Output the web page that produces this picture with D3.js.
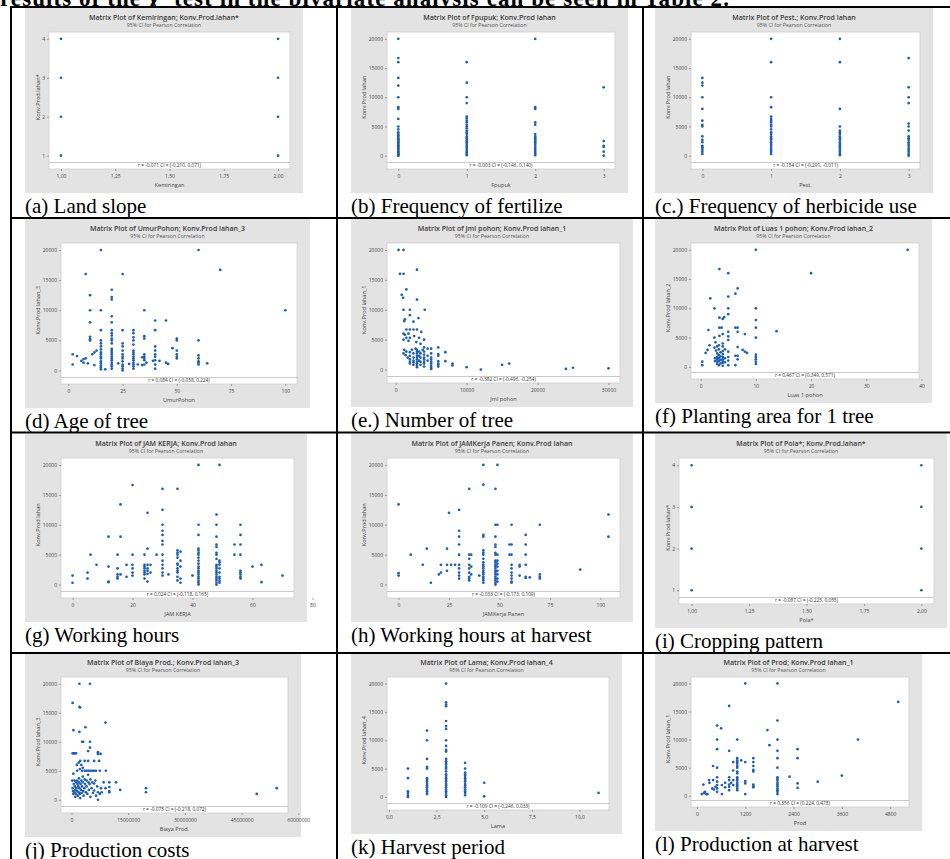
<!DOCTYPE html>
<html>
<head>
<meta charset="utf-8">
<script src="https://cdn.jsdelivr.net/npm/d3@7"></script>
<style>
  html, body { margin: 0; padding: 0; background: #fff; }
</style>
</head>
<body>
<script>
// ---------------- tick values and labels ----------------
const prodTicks = [0, 5000, 10000, 15000, 20000];
const prodTickLabels = ["0", "5000", "10000", "15000", "20000"];
const classTicks = [1, 2, 3, 4];
const classTickLabels = ["1", "2", "3", "4"];
const binaryTicks = [1, 1.25, 1.5, 1.75, 2];
const binaryTickLabels = ["1,00", "1,25", "1,50", "1,75", "2,00"];
const countTicks = [0, 1, 2, 3];
const countTickLabels = ["0", "1", "2", "3"];
const ageTicks = [0, 25, 50, 75, 100];
const ageTickLabels = ["0", "25", "50", "75", "100"];
const treeTicks = [0, 10000, 20000, 30000];
const treeTickLabels = ["0", "10000", "20000", "30000"];
const areaTicks = [0, 10, 20, 30, 40];
const areaTickLabels = ["0", "10", "20", "30", "40"];
const workTicks = [0, 20, 40, 60, 80];
const workTickLabels = ["0", "20", "40", "60", "80"];
const harvestWorkTicks = [0, 25, 50, 75, 100];
const harvestWorkTickLabels = ["0", "25", "50", "75", "100"];
const costTicks = [0, 15000000, 30000000, 45000000, 60000000];
const costTickLabels = ["0", "15000000", "30000000", "45000000", "60000000"];
const periodTicks = [0, 2.5, 5, 7.5, 10];
const periodTickLabels = ["0,0", "2,5", "5,0", "7,5", "10,0"];
const outputTicks = [0, 1200, 2400, 3600, 4800];
const outputTickLabels = ["0", "1200", "2400", "3600", "4800"];

// ---------------- observations ----------------
// (a) land slope class vs yield class
const slopePoints = [[1,1],[1,2],[1,3],[1,4],[2,1],[2,2],[2,3],[2,4]];

// (b) fertilizer frequency vs yield
const fertilizeCols = [
  {x: 0, y: [20000,16700,16000,13300,12000,10000,8300,8000,6300,5000,4500,4000,3700,3500,3300,3000,2800,2700,2500,2300,2200,2000,1800,1700,1500,1300,1200,1000,800,700,500,400,200,100,0]},
  {x: 1, y: [16000,12500,10000,9000,6700,6400,6000,5700,5300,5000,4700,4300,4000,3700,3300,3000,2700,2500,2300,2000,1700,1500,1300,1000,700,500,300,100]},
  {x: 2, y: [20000,8300,8000,5700,5300,3700,3300,3000,2700,2500,2300,2000,1700,1300,1000,700,400,100]},
  {x: 3, y: [11700,2500,1700,1500,700,0]}
];

// (c) herbicide frequency vs yield
const herbicideCols = [
  {x: 0, y: [13300,12500,12000,10000,8000,6000,5300,5000,3300,2700,2300,1700,1500,1300,1000,700,300]},
  {x: 1, y: [20000,16000,10000,8300,6700,6300,6000,5700,5300,5000,4500,4000,3700,3300,3000,2700,2300,2000,1700,1300,1000,700,300]},
  {x: 2, y: [20000,16000,8000,5000,4300,4000,3700,3300,3000,2700,2300,2000,1700,1500,1300,1000,700,400,100]},
  {x: 3, y: [16700,11700,10000,9000,5500,5000,4300,3300,3000,2700,2300,2000,1700,1300,1000,700,300,0]}
];

// (d) tree age vs yield
const ageCols = [
  {x: 10, y: [12500,10000,8000,5600,5200,5000]},
  {x: 15, y: [20000,10000,6700,5000,4500,4000,3500,3000,2700,2300,2000,1500,1200,800,500,200]},
  {x: 20, y: [13400,12200,11800,9000,8000,6700,6200,5800,5300,5000,4500,3600,3300,3000,2700,2300,2000,1700,1300,1000,700,300]},
  {x: 25, y: [16000,6700,4500,4000,3300,2700,2300,2000,1500,1000,700,300,0]},
  {x: 30, y: [6700,6200,5500,5000,4300,3300,3000,2700,2300,2000,1700,1300,1000,700,300]},
  {x: 35, y: [10000,5700,5300,2700,2300,2000,1700,1000]},
  {x: 40, y: [8300,6700,4000,3300,2700,2300,1700,1000,300]},
  {x: 50, y: [5300,5000,3300,2700,2300,2000]},
  {x: 60, y: [20000,5000,2500,2000,1500,1300,1000]}
];
const ageScatter = [[70,16700],[8,16000],[100,10000],[45,8300],[64,1200],[48,3700],[45,1300],[46,1100],[42,1600],
  [2,2700],[4,2400],[2,1000],[6,1600],[7,1300],[7,1900],[8,2000],[9,1200],[11,2700],[12,3000],[13,3300],[12,900],
  [17,200],[23,1200],[28,1100],[32,1000],[34,900],[34,2200],[36,1300],[39,1600]];

// (e) number of trees vs yield
const treeCountPoints = [[400,20000],[1100,20000],[600,16000],[1100,16000],[3000,16700],[1500,13400],[850,12500],[1050,12000],
  [3000,11700],[1100,10000],[2000,10000],[4100,10000],[2000,9100],[1200,8100],[1300,8400],[2500,8000],[3200,8600],
  [1500,6700],[2000,6700],[2500,6700],[3000,6700],[3600,6300],[1100,6000],[1300,5800],[1800,6000],[1500,5300],
  [2000,5300],[2600,5600],[3300,5300],[1100,5000],[1800,4800],[2900,4600],[4000,5000],[3500,4300],
  [1200,3300],[1500,3000],[1100,2700],[1400,2400],[1700,2000],[2000,2900],[2000,2300],[2000,1700],[2000,1300],[2000,1000],
  [2300,3300],[2500,2700],[2500,2000],[2500,1500],[2500,1200],[2500,800],[2800,3500],[3000,3300],[3000,3000],[3000,2700],
  [3000,2300],[3000,2000],[3000,1700],[3000,1300],[3000,1000],[3000,700],[3000,400],[3300,3000],[3300,2300],[3300,1500],
  [3500,2700],[3500,2000],[3500,1300],[3500,800],[3800,3300],[4000,3700],[4000,3000],[4000,2500],[4000,2000],[4000,1700],
  [4000,1300],[4000,1000],[4000,500],[4500,3500],[4500,2300],[4500,1500],[5000,3500],[5000,2700],[5000,2000],[5000,1700],
  [5000,1300],[5000,1000],[5000,600],[5000,300],[5000,100],[6000,3700],[6000,2600],[6000,2300],[6000,1400],[6000,1000],
  [6000,800],[6000,500],[7000,2900],[7000,1400],[8000,1000],[8000,700],[10000,400],[12000,0],[15000,800],[16000,1000],
  [24000,100],[25000,300],[30000,200]];

// (f) planting area per tree vs yield
const areaPoints = [[10,20000],[37.5,20000],[3.4,16700],[5,16000],[20,16000],[6.7,13400],[6.3,12500],[1.75,11700],[5,12000],
  [2.5,10000],[5,10000],[5,9000],[10,10000],[3.4,8400],[4,8200],[4.25,8500],[10,8000],[3.4,6700],[3.8,6700],[6.3,6700],
  [6.7,6700],[6.7,6000],[10,6700],[1.4,6300],[13.75,6100],[5,6000],[8,5600],[10,5000],[2.5,5000],[4,5600],[3.4,5300],
  [5,5200],[5,4600],[0.3,900],[0.3,300],[1.25,2900],[0.9,2400],[1.6,3700],[2.5,3300],[2.8,2800],[3,2300],[3,1700],
  [3,1300],[3,900],[3,500],[3.3,3700],[3.3,3000],[3.3,2000],[3.3,1500],[3.3,1000],[3.3,300],[3.6,2500],[3.6,1800],
  [3.6,1200],[3.6,600],[4,4000],[4,3500],[4,2700],[4,2200],[4,1700],[4,1300],[4,1000],[4,700],[4,200],[4.4,3000],
  [4.4,1500],[4.4,800],[2.7,4200],[2.6,1000],[2.6,1500],[3,3500],[6.7,3400],[7.6,2900],[8,2600],[8.4,2400],[6.3,1900],
  [6.7,1900],[6.7,1300],[6.3,300],[10,2100],[10,1700],[10,1300],[10,900],[10,500],[5,2600],[5,1700],[5,1100],[5,300]];

// (g) working hours vs yield
const workCols = [
  {x: 24, y: [5000,3300,3000,2700,2300,2000,1700,1000]},
  {x: 25, y: [12000,6000,3300,2700,2300,1800,500]},
  {x: 30, y: [16000,12500,10000,9000,8300,7300,6700,5000,4000,3300,2700,2000,1500]},
  {x: 35, y: [16000,5700,5300,5000,4500,3500,3300,2700,2300,2000,1300,700]},
  {x: 36, y: [5500,4000,3000,1000,300]},
  {x: 42, y: [20000,10000,8300,6000,5700,5300,5000,4500,4000,3500,3000,2700,2300,2000,1700,1300,1000,600,300,0]},
  {x: 48, y: [11700,10000,8000,6700,6300,5300,5000,4300,3300,3000,2700,2300,2000,1700,1300,1000,700,300,0]},
  {x: 49, y: [20000,4000,3700,3300,2700,2000,1300,1000,600,300]},
  {x: 56, y: [10000,8300,6700,5000,2300,2000,1700,1300,1000]}
];
const workScatter = [[20,16650],[16,13400],[54,6700],[54,5000],[60,3000],[63,3300],[63,400],[70,1500],[0,1500],[0,300],
  [5,2000],[5,1000],[6,5000],[8,3300],[12,8000],[12,3000],[12,500],[12,400],[15,5000],[15,2700],[15,1700],[15,1300],
  [15,1000],[16,8000],[16,1700],[18,3300],[18,1300],[20,5000],[20,3300],[20,2700],[20,2000],[20,1500],[26,3300],
  [26,2000],[28,5000],[32,1700],[40,1500]];

// (h) working hours at harvest vs yield
const harvestWorkCols = [
  {x: 30, y: [12500,9000,8000,6700,5000,3300,2700,2000,1500,1000]},
  {x: 35, y: [16000,5000,4300,3300,2700,2000,1300,1000,700]},
  {x: 36, y: [5000,3000,1700]},
  {x: 42, y: [20000,16700,8300,8000,5700,5300,5000,4300,3700,3300,3000,2700,2300,2000,1700,1300,1000,700,300]},
  {x: 48, y: [16000,10000,8000,6700,6300,5300,5000,4000,3700,3300,3000,2700,2300,2000,1700,1300,1000,700,300,0]},
  {x: 49, y: [20000,10000,5000,4000,3500,3000,2300,1700,1000,500]},
  {x: 56, y: [10000,6700,5000,3300,2700,2000,1500,1000,500,300]},
  {x: 63, y: [8300,6700,5000,3300,1300,1100]}
];
const harvestWorkScatter = [[0,13400],[25,12000],[104,11700],[104,8000],[90,2500],[70,10000],[55,6700],[55,5000],
  [60,3300],[60,3000],[60,1500],[65,1200],[70,1700],[70,1300],[70,1000],[0,1900],[0,1500],[6,5000],[12,3300],[14,6000],
  [16,300],[20,1700],[21,2000],[21,3300],[24,6000],[24,3300],[24,2300],[26,3300],[28,3300],[40,1500]];

// (i) cropping pattern vs yield class
const patternPoints = [[1,1],[1,2],[1,3],[1,4],[2,1],[2,2],[2,3],[2,4]];

// (j) production cost vs yield
const costPoints = [[2.1e6,20000],[4.9e6,20000],[0.3e6,16700],[2.1e6,16000],[2.3e6,15900],[9e6,13300],[3.7e6,12500],
  [0.5e6,12000],[2.1e6,11700],[2.8e6,10000],[3.1e6,10000],[4.9e6,10000],[4.9e6,9000],[4.4e6,8400],[0.3e6,8000],
  [0.6e6,8000],[0.9e6,8000],[1.2e6,8000],[7e6,8200],[7.7e6,7900],[7e6,7900],[1.9e6,6400],[2.3e6,6700],[3.5e6,6700],
  [4.4e6,6700],[6e6,6700],[7.3e6,6700],[1.4e6,6000],[0.5e6,4500],[2.6e6,6000],[3e6,5500],[2.8e6,5000],[3.5e6,5000],
  [4e6,5000],[4.5e6,5000],[5e6,5000],[5.5e6,5000],[6e6,5000],[6.5e6,5000],[7.5e6,5000],[9.1e6,5000],[1.5e6,5000],
  [2.2e6,5300],[11.8e6,3000],[10e6,3000],[10e6,2200],[10e6,1500],[10e6,1300],[12.9e6,1700],[19.7e6,2000],[19.7e6,1300],
  [49e6,1000],[54.3e6,2000],[7e6,0],[0.2e6,3300],[0.3e6,2000],[0.4e6,1500],[0.5e6,1000],[0.6e6,2700],[0.8e6,3300],
  [0.8e6,1300],[0.9e6,2300],[1e6,1700],[1e6,500],[1.2e6,3000],[1.2e6,1000],[1.3e6,2000],[1.5e6,3300],[1.5e6,1500],
  [1.6e6,2700],[1.7e6,700],[1.8e6,2300],[1.9e6,1300],[2e6,3700],[2e6,3000],[2.1e6,2000],[2.2e6,1000],[2.3e6,300],
  [2.4e6,2700],[2.5e6,1700],[2.6e6,3300],[2.7e6,1200],[2.8e6,2300],[3e6,4000],[3e6,3000],[3.1e6,1500],[3.2e6,700],
  [3.4e6,2000],[3.5e6,3500],[3.6e6,2700],[3.8e6,1300],[4e6,3300],[4e6,2300],[4.2e6,1000],[4.4e6,4300],[4.5e6,3000],
  [4.6e6,1700],[4.8e6,2700],[5e6,3500],[5e6,500],[5.3e6,2000],[5.5e6,3000],[5.7e6,1200],[6e6,2800],[6e6,1600],
  [6.3e6,3300],[6.5e6,700],[6.8e6,2300],[7e6,1300],[7.5e6,1000],[7.8e6,2000],[8e6,1300],[8.5e6,3000],[9e6,2000]];

// (k) harvest period vs yield
const periodCols = [
  {x: 1, y: [5000,3300,1000,700,300,0]},
  {x: 2, y: [11700,10000,6700,5300,5000,3300,3000,2700,2300,2000,1700,1300,1000,700,500]},
  {x: 3, y: [20000,16700,16300,16000,13400,12500,12000,10000,9000,8300,8000,6700,6300,6000,5700,5300,5000,4500,4000,3700,3300,3000,2700,2300,2000,1700,1300,1000,700,300,0]},
  {x: 4, y: [6000,5000,4300,4000,3700,3300,3000,2700,2300,2000,1700,1300,1000,700,300]},
  {x: 5, y: [2500,100]},
  {x: 11, y: [700]}
];

// (l) production at harvest vs yield
const outputCols = [
  {x: 1000, y: [10000,6700,6300,6000,5700,5300,5000,4300,4000,3300,3000,2700,2300,2000,1700,1300,1000]},
  {x: 1400, y: [6700,6000,5300,4600,4300,2000,1700,1500]},
  {x: 2000, y: [20000,13400,10000,8000,6700,5000,3300,3000,2700,2300,2000,1700,1300,1000,700,300]}
];
const outputScatter = [[1200,20000],[5000,16700],[800,16000],[500,12500],[600,12000],[1750,11700],[1800,9000],
  [500,10000],[4000,10000],[500,8300],[800,8000],[2500,8300],[2500,6700],[1100,6300],[1200,6000],[900,6000],
  [2300,3400],[2500,2200],[2500,1400],[3000,2500],[3600,3600],[400,5300],[500,5000],[1200,2600],[1200,2200],[1200,300],
  [120,300],[160,2000],[180,500],[230,300],[200,700],[260,300],[300,2800],[310,2300],[380,1300],[420,1100],[460,1600],
  [400,2800],[500,3300],[500,2500],[500,1900],[500,1300],[500,700],[620,1900],[620,300],[700,2300],[700,1500],[800,3300],
  [800,2800],[800,2000],[800,1600],[800,1000],[900,4500],[900,2800],[900,1900],[850,2300]];

const fromCols = cols => cols.flatMap(c => c.y.map(v => [c.x, v]));

// ---------------- panel content ----------------
const panels = [
  {title: "Matrix Plot of Kemiringan; Konv.Prod.lahan*", xTitle: "Kemiringan", yTitle: "Konv.Prod.lahan*",
   stat: "r = -0,071  CI = (-0,210, 0,071)", caption: "(a) Land slope", points: slopePoints,
   xTicks: binaryTicks, xLabels: binaryTickLabels, yTicks: classTicks, yLabels: classTickLabels},
  {title: "Matrix Plot of Fpupuk; Konv.Prod lahan", xTitle: "Fpupuk", yTitle: "Konv.Prod lahan",
   stat: "r = -0,003  CI = (-0,146, 0,140)", caption: "(b) Frequency of fertilize", points: fromCols(fertilizeCols),
   xTicks: countTicks, xLabels: countTickLabels, yTicks: prodTicks, yLabels: prodTickLabels},
  {title: "Matrix Plot of Pest.; Konv.Prod lahan", xTitle: "Pest.", yTitle: "Konv.Prod lahan",
   stat: "r = -0,154  CI = (-0,291, -0,011)", caption: "(c.) Frequency of herbicide use", points: fromCols(herbicideCols),
   xTicks: countTicks, xLabels: countTickLabels, yTicks: prodTicks, yLabels: prodTickLabels},
  {title: "Matrix Plot of UmurPohon; Konv.Prod lahan_3", xTitle: "UmurPohon", yTitle: "Konv.Prod lahan_3",
   stat: "r = 0,084  CI = (-0,058, 0,224)", caption: "(d) Age of tree", points: fromCols(ageCols).concat(ageScatter),
   xTicks: ageTicks, xLabels: ageTickLabels, yTicks: prodTicks, yLabels: prodTickLabels},
  {title: "Matrix Plot of Jml pohon; Konv.Prod lahan_1", xTitle: "Jml pohon", yTitle: "Konv.Prod lahan_1",
   stat: "r = -0,382  CI = (-0,496, -0,254)", caption: "(e.) Number of tree", points: treeCountPoints,
   xTicks: treeTicks, xLabels: treeTickLabels, yTicks: prodTicks, yLabels: prodTickLabels},
  {title: "Matrix Plot of Luas 1 pohon; Konv.Prod lahan_2", xTitle: "Luas 1 pohon", yTitle: "Konv.Prod lahan_2",
   stat: "r = 0,467  CI = (0,349, 0,571)", caption: "(f) Planting area for 1 tree", points: areaPoints,
   xTicks: areaTicks, xLabels: areaTickLabels, yTicks: prodTicks, yLabels: prodTickLabels},
  {title: "Matrix Plot of JAM KERJA; Konv.Prod lahan", xTitle: "JAM KERJA", yTitle: "Konv.Prod lahan",
   stat: "r = 0,024  CI = (-0,118, 0,165)", caption: "(g) Working hours", points: fromCols(workCols).concat(workScatter),
   xTicks: workTicks, xLabels: workTickLabels, yTicks: prodTicks, yLabels: prodTickLabels},
  {title: "Matrix Plot of JAMKerja Panen; Konv.Prod lahan", xTitle: "JAMKerja Panen", yTitle: "Konv.Prod lahan",
   stat: "r = -0,033  CI = (-0,173, 0,109)", caption: "(h) Working hours at harvest",
   points: fromCols(harvestWorkCols).concat(harvestWorkScatter),
   xTicks: harvestWorkTicks, xLabels: harvestWorkTickLabels, yTicks: prodTicks, yLabels: prodTickLabels},
  {title: "Matrix Plot of Pola*; Konv.Prod.lahan*", xTitle: "Pola*", yTitle: "Konv.Prod.lahan*",
   stat: "r = -0,087  CI = (-0,225, 0,055)", caption: "(i) Cropping pattern", points: patternPoints,
   xTicks: binaryTicks, xLabels: binaryTickLabels, yTicks: classTicks, yLabels: classTickLabels},
  {title: "Matrix Plot of Biaya Prod.; Konv.Prod lahan_3", xTitle: "Biaya Prod.", yTitle: "Konv.Prod lahan_3",
   stat: "r = -0,075  CI = (-0,218, 0,072)", caption: "(j) Production costs", points: costPoints,
   xTicks: costTicks, xLabels: costTickLabels, yTicks: prodTicks, yLabels: prodTickLabels},
  {title: "Matrix Plot of Lama; Konv.Prod lahan_4", xTitle: "Lama", yTitle: "Konv.Prod lahan_4",
   stat: "r = -0,109  CI = (-0,246, 0,033)", caption: "(k) Harvest period", points: fromCols(periodCols),
   xTicks: periodTicks, xLabels: periodTickLabels, yTicks: prodTicks, yLabels: prodTickLabels, xFrom: -0.1},
  {title: "Matrix Plot of Prod; Konv.Prod lahan_1", xTitle: "Prod", yTitle: "Konv.Prod lahan_1",
   stat: "r = 0,356  CI = (0,224, 0,478)", caption: "(l) Production at harvest",
   points: fromCols(outputCols).concat(outputScatter),
   xTicks: outputTicks, xLabels: outputTickLabels, yTicks: prodTicks, yLabels: prodTickLabels}
];

// ---------------- page layout ----------------
const boxes = [
  {x: 25, y: 8, w: 278, h: 185}, {x: 351, y: 8, w: 277, h: 185}, {x: 655, y: 8, w: 278, h: 185},
  {x: 25, y: 219, w: 285, h: 189}, {x: 351, y: 219, w: 282, h: 188}, {x: 655, y: 219, w: 277, h: 184},
  {x: 25, y: 434, w: 282, h: 188}, {x: 351, y: 434, w: 282, h: 188}, {x: 655, y: 434, w: 292, h: 194},
  {x: 25, y: 653, w: 276, h: 184}, {x: 351, y: 653, w: 271, h: 181}, {x: 655, y: 653, w: 267, h: 178}
];
const rowLines = [7, 218, 432.5, 653];
const colLines = [11, 337, 643];
const introWidth = 730;

const W = 950, H = 859;
const sans = "'Open Sans', 'Noto Sans', sans-serif";
const serif = "'Liberation Serif', 'Times New Roman', serif";
const dotColor = "#1f5fae";

const svg = d3.select("body").append("svg")
  .attr("width", W).attr("height", H)
  .style("display", "block");
svg.append("rect").attr("width", W).attr("height", H).attr("fill", "#fff");

// running sentence above the table (its upper part runs off the page top)
const intro = svg.append("text")
  .attr("x", 0).attr("y", 6)
  .attr("font-family", serif).attr("font-size", 23).attr("font-weight", "bold").attr("fill", "#000");
intro.append("tspan").text("results of the \u03C7");
intro.append("tspan").attr("dy", -8).attr("font-size", 13).text("2");
intro.append("tspan").attr("dy", 8).text(" test in the bivariate analysis can be seen in Table 2.");
// spread the letters so the line fills its measure
const introNatural = intro.node().getComputedTextLength();
const introChars = intro.text().length;
intro.attr("letter-spacing", Math.max(0, (introWidth - introNatural) / introChars));

const pad = (ext, f) => { const r = ext[1] - ext[0]; return [ext[0] - f * r, ext[1] + f * r]; };

panels.forEach((p, i) => {
  const b = boxes[i];
  const g = svg.append("g");

  g.append("rect").attr("x", b.x).attr("y", b.y).attr("width", b.w).attr("height", b.h).attr("fill", "#e3e3e3");

  g.append("text")
    .attr("x", b.x + b.w / 2).attr("y", b.y + 12)
    .attr("text-anchor", "middle").attr("font-family", sans).attr("font-size", 7)
    .attr("font-weight", 600).attr("fill", "#3a3a3a").text(p.title);
  g.append("text")
    .attr("x", b.x + b.w / 2).attr("y", b.y + 18.5)
    .attr("text-anchor", "middle").attr("font-family", sans).attr("font-size", 5.2)
    .attr("fill", "#555").text("95% CI for Pearson Correlation");

  const maxChars = d3.max(p.yLabels, s => s.length);
  const left = b.x + 21 + 3 * maxChars;
  const right = b.x + b.w - 13;
  const top = b.y + 24;
  const stripBottom = b.y + b.h - 24;
  const dataBottom = stripBottom - 6.5;

  const xDom = pad(d3.extent(p.points, d => d[0]), 0.055);
  if (p.xFrom !== undefined) xDom[0] = p.xFrom;
  const x = d3.scaleLinear().domain(xDom).range([left, right]);
  const y = d3.scaleLinear().domain(pad(d3.extent(p.points, d => d[1]), 0.058)).range([dataBottom, top]);

  // plot region and correlation strip
  g.append("rect").attr("x", left).attr("y", top).attr("width", right - left).attr("height", stripBottom - top)
    .attr("fill", "#fff").attr("stroke", "#cfcfcf").attr("stroke-width", 0.8);
  g.append("line").attr("x1", left).attr("x2", right).attr("y1", dataBottom).attr("y2", dataBottom)
    .attr("stroke", "#bdbdbd").attr("stroke-width", 0.8);
  g.append("text")
    .attr("x", (left + right) / 2).attr("y", stripBottom - 1.6)
    .attr("text-anchor", "middle").attr("font-family", sans).attr("font-size", 4.8)
    .attr("fill", "#333").text(p.stat);

  const yAxis = g.append("g").attr("transform", `translate(${left},0)`)
    .call(d3.axisLeft(y).tickValues(p.yTicks).tickFormat((d, k) => p.yLabels[k]).tickSize(2).tickPadding(2));
  const xAxis = g.append("g").attr("transform", `translate(0,${stripBottom})`)
    .call(d3.axisBottom(x).tickValues(p.xTicks).tickFormat((d, k) => p.xLabels[k]).tickSize(2).tickPadding(3));
  [yAxis, xAxis].forEach(a => {
    a.attr("font-family", sans).attr("font-size", 5).attr("color", "#666");
    a.select(".domain").remove();
    a.selectAll(".tick line").attr("stroke-width", 0.6);
    a.selectAll(".tick text").attr("fill", "#444");
  });

  g.append("text")
    .attr("x", (left + right) / 2).attr("y", stripBottom + 17.5)
    .attr("text-anchor", "middle").attr("font-family", sans).attr("font-size", 5.6)
    .attr("fill", "#444").text(p.xTitle);
  g.append("text")
    .attr("transform", `translate(${b.x + 13},${(top + dataBottom) / 2}) rotate(-90)`)
    .attr("text-anchor", "middle").attr("dominant-baseline", "central")
    .attr("font-family", sans).attr("font-size", 5.6).attr("fill", "#444").text(p.yTitle);

  g.append("g").selectAll("circle").data(p.points).join("circle")
    .attr("cx", d => x(d[0])).attr("cy", d => y(d[1])).attr("r", 1.35).attr("fill", dotColor);

  svg.append("text")
    .attr("x", b.x).attr("y", b.y + b.h + 19.5)
    .attr("font-family", serif).attr("font-size", 21).attr("fill", "#000").text(p.caption);
});

// table rules
svg.append("g").selectAll("line").data(rowLines).join("line")
  .attr("x1", 10).attr("x2", W).attr("y1", d => d).attr("y2", d => d)
  .attr("stroke", "#000").attr("stroke-width", 2);
svg.append("g").selectAll("line").data(colLines).join("line")
  .attr("x1", d => d).attr("x2", d => d).attr("y1", rowLines[0] - 1).attr("y2", H)
  .attr("stroke", "#000").attr("stroke-width", 2);
</script>
</body>
</html>
